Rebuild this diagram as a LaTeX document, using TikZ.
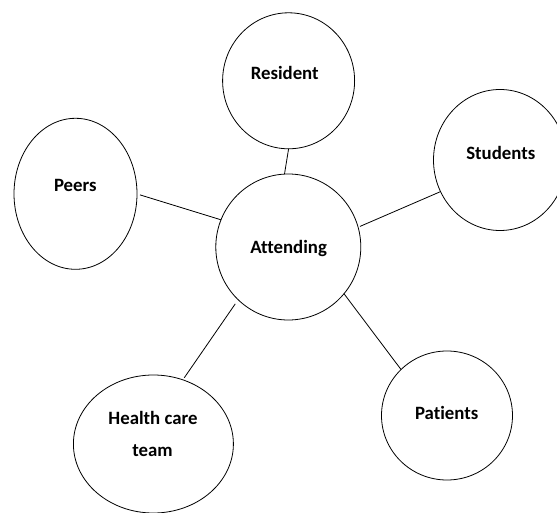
\documentclass[tikz,border=0pt]{standalone}
\usepackage{fontspec}
\setmainfont{Carlito}[Ligatures=NoCommon]
\usetikzlibrary{shapes.geometric}
\begin{document}
\begin{tikzpicture}[x=1pt,y=1pt,
  bubble/.style={draw=black,line width=0.8pt,ellipse,inner sep=0pt,outer sep=0pt},
  lbl/.style={font=\fontsize{18.8}{22}\selectfont\bfseries,anchor=base,inner sep=0pt},
  link/.style={draw=black,line width=0.8pt}]
\useasboundingbox (0,0) rectangle (557,512);
\clip (0,0) rectangle (557,512);
\fill[white] (0,0) rectangle (557,512);
% shapes
\node[bubble,minimum width=145pt,minimum height=146pt] (att) at (288.3,265) {};
\node[bubble,minimum width=132pt,minimum height=136pt] (res) at (288.6,431.2) {};
\node[bubble,minimum width=133pt,minimum height=141pt] (stu) at (500,352) {};
\node[bubble,minimum width=123pt,minimum height=151pt] (peer) at (75.5,318.2) {};
\node[bubble,minimum width=160pt,minimum height=138pt] (hct) at (153.4,68) {};
\node[bubble,minimum width=131pt,minimum height=129pt] (pat) at (447,96.5) {};
% labels
\node[lbl] (tres) at (284.7,432.5) {Resident};
\node[lbl] (tstu) at (500.8,352) {Students};
\node[lbl] (tpeer) at (75.3,320) {Peers};
\node[lbl] (tatt) at (288.6,258.5) {Attending};
\node[lbl] (thct1) at (153,88) {Health care};
\node[lbl] (thct2) at (152.6,55.3) {team};
\node[lbl] (tpat) at (446.7,93) {Patients};
% connectors
\draw[link] (att.93.5) -- (res.270);
\draw[link] (att.158.4) -- ([xshift=3pt]peer.-1.7);
\draw[link] ([shift={(16.6:2pt)}]att.16.6) -- (stu.208.5);
\draw[link] ([shift={(227:5pt)}]att.227) -- ([shift={(65:2.5pt)}]hct.65);
\draw[link] (att.320.8) -- (pat.135);
\end{tikzpicture}
\end{document}
